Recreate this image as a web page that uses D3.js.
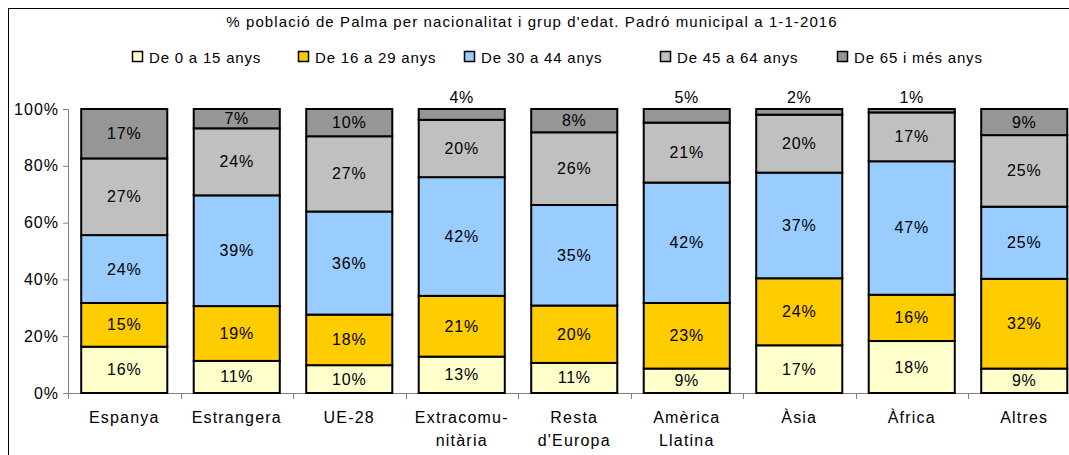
<!DOCTYPE html>
<html>
<head>
<meta charset="utf-8">
<script src="https://cdn.jsdelivr.net/npm/d3@7"></script>
<style>
	body { margin: 0; background: #fff; }
	svg { display: block; font-family: "Liberation Sans", Arial, sans-serif; }
</style>
</head>
<body>
<svg id="chart" width="1069" height="455"></svg>
<script>
// values (percent of each nationality group)
var categories = [["Espanya"], ["Estrangera"], ["UE-28"], ["Extracomu-", "nitària"], ["Resta", "d'Europa"], ["Amèrica", "Llatina"], ["Àsia"], ["Àfrica"], ["Altres"]];
var series_names = ["De 0 a 15 anys", "De 16 a 29 anys", "De 30 a 44 anys", "De 45 a 64 anys", "De 65 i més anys"];
var age_0_15 = [16.3, 11.3, 9.8, 12.8, 10.6, 8.6, 16.8, 18.3, 8.6];
var age_16_29 = [15.4, 19.3, 17.8, 21.4, 20.2, 23.1, 23.6, 16.3, 31.6];
var age_30_44 = [23.9, 39.0, 36.3, 41.8, 35.4, 42.4, 37.2, 47.0, 25.4];
var age_45_64 = [27.0, 23.6, 26.5, 20.2, 25.6, 21.1, 20.4, 17.2, 25.2];
var age_65 = [17.4, 6.8, 9.6, 3.8, 8.2, 4.8, 2.0, 1.2, 9.2];
var y_ticks = [0, 20, 40, 60, 80, 100];
var colors = ["#FFFFCC", "#FFCC00", "#99CCFF", "#C0C0C0", "#969696"];

var all_series = [age_0_15, age_16_29, age_30_44, age_45_64, age_65];
var svg = d3.select("#chart");

// outer frame
svg.append("rect").attr("x", 8.5).attr("y", 8.5).attr("width", 1100).attr("height", 500)
	.attr("fill", "none").attr("stroke", "#000").attr("stroke-width", 1);

svg.append("text").attr("x", 532).attr("y", 27).attr("text-anchor", "middle")
	.attr("font-size", 15).attr("letter-spacing", 1.1)
	.text("% població de Palma per nacionalitat i grup d'edat. Padró municipal a 1-1-2016");

// legend
var legend_x = [132, 298, 464, 660, 837];
var legend = svg.append("g").selectAll("g").data(series_names).join("g")
	.attr("transform", function(d, i) { return "translate(" + legend_x[i] + ",57)"; });
legend.append("rect").attr("x", 0.5).attr("y", -5.5).attr("width", 10).attr("height", 10)
	.attr("fill", function(d, i) { return colors[i]; }).attr("stroke", "#000").attr("stroke-width", 1.5);
legend.append("text").attr("x", 17).attr("y", 5.5).attr("font-size", 15).attr("letter-spacing", 0.8)
	.text(function(d) { return d; });

var x = d3.scaleBand().domain(d3.range(categories.length)).range([68, 1080.5]).paddingInner(0.235).paddingOuter(0.1175);
var y = d3.scaleLinear().domain([0, 100]).range([393, 109]);

// y axis
var y_axis = svg.append("g").attr("transform", "translate(68,0)")
	.call(d3.axisLeft(y).tickValues(y_ticks).tickSize(5).tickPadding(4).tickFormat(function(d) { return d + "%"; }));
y_axis.selectAll("line, path").attr("stroke", "#808080");
y_axis.selectAll("text").attr("font-size", 16).attr("letter-spacing", 1).attr("fill", "#000")
	.attr("font-family", "Liberation Sans, Arial, sans-serif");

// x axis with ticks between categories
var x_axis = svg.append("g");
x_axis.append("line").attr("x1", 68).attr("x2", 1080).attr("y1", 393.5).attr("y2", 393.5).attr("stroke", "#808080");
x_axis.selectAll(".tk").data(d3.range(categories.length)).join("line").attr("class", "tk")
	.attr("x1", function(d) { return Math.round(68 + d * x.step()) + 0.5; })
	.attr("x2", function(d) { return Math.round(68 + d * x.step()) + 0.5; })
	.attr("y1", 393).attr("y2", 399).attr("stroke", "#808080");
var cat_labels = x_axis.selectAll(".cl").data(categories).join("text").attr("class", "cl")
	.attr("text-anchor", "middle").attr("font-size", 16).attr("letter-spacing", 1.2)
	.attr("transform", function(d, i) { return "translate(" + (x(i) + x.bandwidth() / 2) + ",423)"; });
cat_labels.selectAll("tspan").data(function(d) { return d; }).join("tspan")
	.attr("x", 0).attr("dy", function(d, i) { return i ? 23 : 0; }).text(function(d) { return d; });

// stacked bars
var rows = categories.map(function(c, i) {
	var r = { i: i };
	all_series.forEach(function(s, k) { r["s" + k] = s[i]; });
	return r;
});
var stack = d3.stack().keys(all_series.map(function(s, k) { return "s" + k; }))(rows);

var layers = svg.append("g").selectAll("g").data(stack).join("g")
	.attr("fill", function(d, k) { return colors[k]; });
layers.selectAll("rect").data(function(d) { return d; }).join("rect")
	.attr("x", function(d) { return x(d.data.i); })
	.attr("width", x.bandwidth())
	.attr("y", function(d) { return y(d[1]); })
	.attr("height", function(d) { return y(d[0]) - y(d[1]); })
	.attr("stroke", "#000").attr("stroke-width", 2);

layers.selectAll("text").data(function(d) { return d; }).join("text")
	.attr("x", function(d) { return x(d.data.i) + x.bandwidth() / 2; })
	.attr("y", function(d) {
		var v = d[1] - d[0];
		if (v < 6) return y(100) - 6;
		return (y(d[0]) + y(d[1])) / 2 + 5.5;
	})
	.attr("text-anchor", "middle").attr("font-size", 16).attr("letter-spacing", 0.8).attr("fill", "#000")
	.text(function(d) { return Math.round(d[1] - d[0]) + "%"; });
</script>
</body>
</html>
